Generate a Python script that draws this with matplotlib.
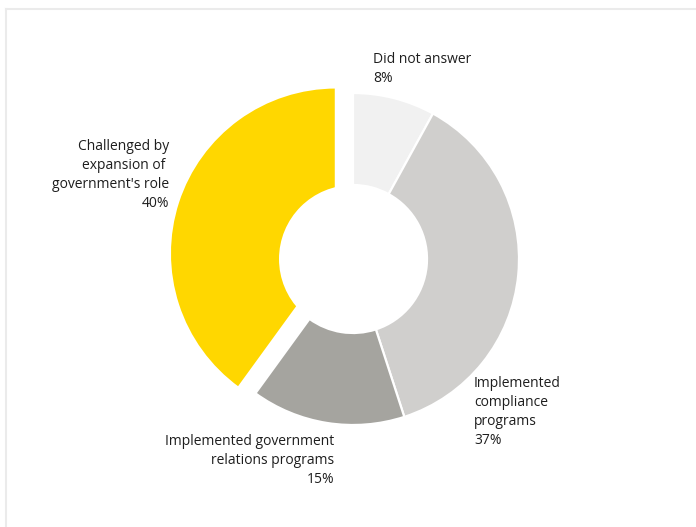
import matplotlib
matplotlib.use("Agg")
import matplotlib.pyplot as plt
from matplotlib.lines import Line2D
from matplotlib.patches import Circle

# Survey responses
categories = [
    "Did not answer",
    "Implemented compliance programs",
    "Implemented government relations programs",
    "Challenged by expansion of government's role",
]
shares = [8, 37, 15, 40]
label_texts = [
    "Did not answer\n8%",
    "Implemented\ncompliance\nprograms\n37%",
    "Implemented government\nrelations programs\n15%",
    "Challenged by\nexpansion of \ngovernment's role\n40%",
]
colors = ["#f1f1f1", "#d0cfcd", "#a5a49f", "#ffd700"]

W, H = 696, 527
fig = plt.figure(figsize=(W / 100, H / 100), dpi=100)
ax = fig.add_axes([0, 0, 1, 1])

cx, cy = 353, H - 259
R = 166
hole = 74

wedges, _ = ax.pie(
    shares,
    colors=colors,
    startangle=90,
    counterclock=False,
    radius=R,
    center=(cx, cy),
    explode=[0, 0, 0, 18],
    wedgeprops=dict(width=R - hole, edgecolor="white", linewidth=1.6),
    frame=True,
)
# the pulled-out slice keeps the common centre hole
wedges[3].set_width(R - 50)
ax.add_patch(Circle((cx, cy), hole, facecolor="white", edgecolor="none", zorder=5))

ax.set_xlim(0, W)
ax.set_ylim(0, H)
ax.set_aspect("equal")
ax.axis("off")

font = dict(family=["Open Sans", "DejaVu Sans"], fontsize=10, color="#1e1e1e",
            linespacing=1.35)

ax.text(373, H - 52, label_texts[0], ha="left", va="top", **font)
ax.text(474, H - 376, label_texts[1], ha="left", va="top", **font)
ax.text(334, H - 434, label_texts[2], ha="right", va="top", multialignment="right", **font)
ax.text(169, H - 139, label_texts[3], ha="right", va="top", multialignment="right", **font)

# light frame along the top and left edges
fig.add_artist(Line2D([6 / W, 1], [1 - 9 / H, 1 - 9 / H], color="#ebebeb", lw=1.5,
                      transform=fig.transFigure))
fig.add_artist(Line2D([6 / W, 6 / W], [0, 1 - 9 / H], color="#ebebeb", lw=1.5,
                      transform=fig.transFigure))

fig.savefig("out.png", dpi=100, facecolor="white")
